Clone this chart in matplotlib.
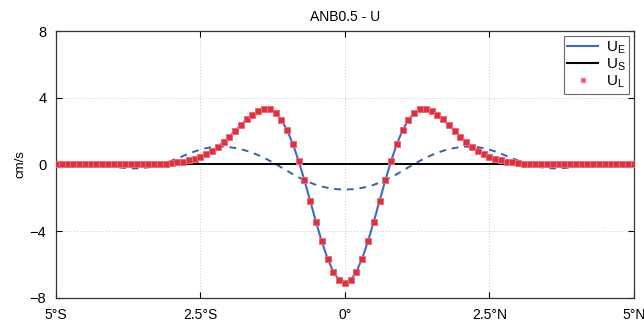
import numpy as np
import matplotlib
matplotlib.use("Agg")
import matplotlib.pyplot as plt
from matplotlib.lines import Line2D

plt.rcParams['font.family'] = ['Liberation Sans', 'DejaVu Sans']
plt.rcParams['mathtext.fontset'] = 'custom'
plt.rcParams['mathtext.sf'] = 'Liberation Sans'
plt.rcParams['mathtext.rm'] = 'Liberation Sans'

# latitude grid (degrees, south negative), 0.1 deg spacing
lat = np.round(np.arange(-5.0, 5.0001, 0.1), 1)

# Eulerian velocity from the equator to 5 deg (symmetric about the equator), cm/s
ue_half = [-7.10, -6.93, -6.43, -5.64, -4.61, -3.44, -2.19, -0.95, 0.21, 1.23,
           2.06, 2.68, 3.09, 3.30, 3.33, 3.22, 2.99, 2.70, 2.36, 2.01,
           1.66, 1.34, 1.07, 0.83, 0.63, 0.47, 0.34, 0.24, 0.17, 0.12,
           0.08, 0.05, 0.03, 0.02, 0.01, 0.00, 0.00, 0.00, 0.00, 0.00,
           0.00, 0.00, 0.00, 0.00, 0.00, 0.00, 0.00, 0.00, 0.00, 0.00,
           0.00]

# reference run (dashed), cm/s
ref_half = [-1.50, -1.49, -1.46, -1.40, -1.32, -1.22, -1.09, -0.94, -0.77, -0.58,
            -0.38, -0.17, 0.03, 0.22, 0.40, 0.56, 0.70, 0.82, 0.92, 0.99,
            1.04, 1.07, 1.07, 1.04, 0.98, 0.89, 0.78, 0.65, 0.51, 0.37,
            0.23, 0.10, -0.01, -0.10, -0.17, -0.21, -0.23, -0.23, -0.21, -0.18,
            -0.14, -0.10, -0.07, -0.05, -0.03, -0.02, -0.01, 0.00, 0.00, 0.00,
            0.00]

# Stokes drift, cm/s
us_half = [0.0] * 51

def both_hemispheres(half):
    half = np.asarray(half, dtype=float)
    return np.concatenate([half[::-1], half[1:]])

u_e = both_hemispheres(ue_half)
u_ref = both_hemispheres(ref_half)
u_s = both_hemispheres(us_half)
u_l = u_e + u_s

xticks = [-5, -2.5, 0, 2.5, 5]
xticklabels = ['5°S', '2.5°S', '0°', '2.5°N', '5°N']
yticks = [-8, -4, 0, 4, 8]

fig = plt.figure(figsize=(6.44, 3.27), dpi=100)
ax = fig.add_axes([0.087, 0.089, 0.897, 0.816])

ax.plot(lat, u_ref, color='#3d5fa6', lw=1.4, ls=(0, (3.5, 3)), zorder=2)
ax.plot(lat, u_s, color='black', lw=1.4, zorder=3)
ax.plot(lat, u_e, color='#3a6cc8', lw=1.5, zorder=4)
ax.plot(lat, u_l, ls='none', marker='s', ms=4.0, mfc='#e0303c', mec='#f06a7a',
        mew=0.7, zorder=5)

handles = [Line2D([], [], color='#3a6cc8', lw=1.5),
           Line2D([], [], color='black', lw=1.5),
           Line2D([], [], ls='none', marker='s', ms=3.5, mfc='#f05070', mec='#f08090')]
labels = [r'$\mathsf{U_E}$', r'$\mathsf{U_S}$', r'$\mathsf{U_L}$']
leg = ax.legend(handles, labels, loc='upper right', fontsize=11, frameon=True,
                fancybox=False, edgecolor='#444444', handlelength=2.0,
                handletextpad=0.5, labelspacing=0.05, borderpad=0.25,
                borderaxespad=0.3)
leg.get_frame().set_linewidth(0.8)

ax.set_xlim(-5, 5)
ax.set_ylim(-8, 8)
ax.set_xticks(xticks)
ax.set_xticklabels(xticklabels)
ax.set_yticks(yticks)
ax.tick_params(direction='in', length=4, width=0.8, labelsize=10.5, top=True,
               right=True)
ax.tick_params(axis='x', pad=7, labelsize=10)
ax.tick_params(axis='y', pad=7)
ax.grid(True, ls=(0, (1, 2)), color='#c8c8c8', lw=0.7)
for s in ax.spines.values():
    s.set_linewidth(0.9)
    s.set_color('#333333')

ax.set_title('ANB0.5 - U', fontsize=10, pad=7)
ax.set_ylabel('cm/s', fontsize=9.5, labelpad=2)

fig.savefig('out.png', dpi=100)
